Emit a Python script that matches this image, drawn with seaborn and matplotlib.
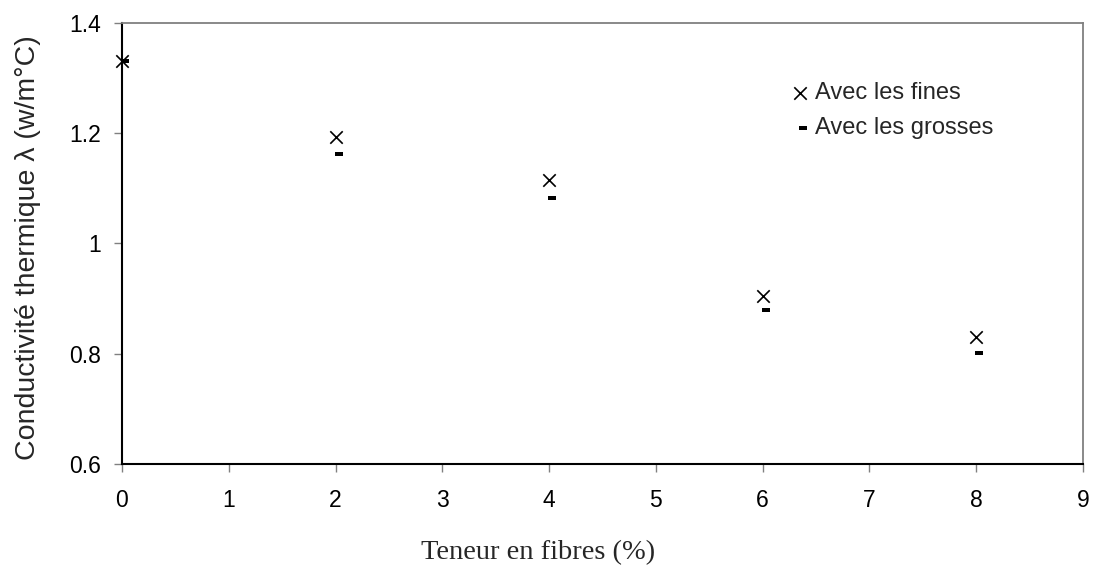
import matplotlib
matplotlib.use("Agg")
import matplotlib.pyplot as plt
import seaborn as sns
import pandas as pd

teneur = [0, 2, 4, 6, 8]
fines = [1.33, 1.193, 1.114, 0.905, 0.830]
grosses = [1.33, 1.162, 1.082, 0.880, 0.802]
xticks = [0, 1, 2, 3, 4, 5, 6, 7, 8, 9]
yticks = [0.6, 0.8, 1.0, 1.2, 1.4]
ytick_labels = ["0.6", "0.8", "1", "1.2", "1.4"]

sns.set_theme(style="white")
plt.rcParams['font.family'] = ['Liberation Sans', 'DejaVu Sans']

fig = plt.figure(figsize=(10.98, 5.71), dpi=100)
ax = fig.add_axes([0.1111, 0.1874, 0.8752, 0.7729])

df_f = pd.DataFrame({"x": teneur, "y": fines})
df_g = pd.DataFrame({"x": teneur, "y": grosses})

# dash marker (small filled bar, drawn slightly right of the point like Excel)
dash = [(-1, -2.2), (7, -2.2), (7, 2.2), (-1, 2.2)]

sns.scatterplot(data=df_f, x="x", y="y", marker="x", s=80, color="black",
                linewidth=1.2, ax=ax, label="Avec les fines", zorder=3, clip_on=False)
sns.scatterplot(data=df_g, x="x", y="y", marker=dash, s=102, color="black",
                linewidth=0, ax=ax, label="Avec les grosses", zorder=3, clip_on=False)

ax.set_xlim(0, 9)
ax.set_ylim(0.6, 1.4)
ax.set_xticks(xticks)
ax.set_yticks(yticks)
ax.set_yticklabels(ytick_labels)
ax.tick_params(axis="both", labelsize=16.5, length=6, width=1, color="#808080",
               direction="out", bottom=True, left=True, labelcolor="black")
ax.tick_params(axis="x", pad=12)
ax.tick_params(axis="y", pad=9.4)

for side in ["left", "bottom"]:
    ax.spines[side].set_color("black")
    ax.spines[side].set_linewidth(1.5)
for side in ["top", "right"]:
    ax.spines[side].set_color("#808080")
    ax.spines[side].set_linewidth(1.3)
    ax.spines[side].set_visible(True)

ax.set_xlabel("Teneur en fibres (%)", fontsize=20.5, family="Liberation Serif", va="center")
ax.xaxis.set_label_coords(0.433, -0.2)
ax.set_ylabel("Conductivité thermique λ (w/m°C)", fontsize=20.5, va="center")
ax.yaxis.set_label_coords(-0.098, 0.49)

leg = ax.legend(loc="upper left", bbox_to_anchor=(0.6815, 0.892), frameon=False,
                fontsize=17, handletextpad=0.1, handlelength=1.0, labelspacing=0.55,
                borderpad=0, markerscale=1.0)

fig.savefig("out.png", dpi=100)
